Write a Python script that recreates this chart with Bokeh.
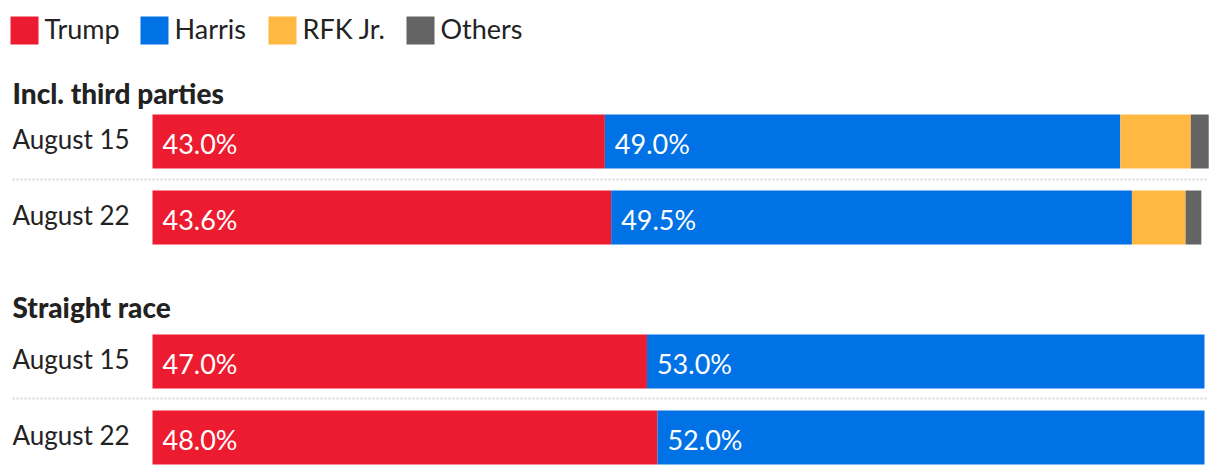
from bokeh.plotting import figure
from bokeh.models import Range1d, ColumnDataSource
from bokeh.core.properties import value
from bokeh.embed import file_html
from bokeh.resources import INLINE

# ---- data ----
candidates = ["Trump", "Harris", "RFK Jr.", "Others"]
dates = ["August 15", "August 22"]
sections = ["Incl. third parties", "Straight race"]
third_trump = [43.0, 43.6]
third_harris = [49.0, 49.5]
third_rfk = [6.7, 5.1]
third_others = [1.7, 1.5]
straight_trump = [47.0, 48.0]
straight_harris = [53.0, 52.0]

# ---- style / layout ----
COLORS = ["#EC1B2F", "#0072E6", "#FFB942", "#646464"]
TEXT = "#222222"
FONT = "Lato"
W, H = 1212, 466
M = 0                     # figure origin on screen
BAR_X0, BAR_X1 = 152, 1204  # screen px for 0% and 100%
k = (BAR_X1 - BAR_X0) / 100.0
x0 = -(BAR_X0 - M) / k
x1 = x0 + W / k
ROW_Y = [[141, 217], [361, 437]]
SECTION_Y = [92, 306]
DIVIDER_Y = [179, 398]
BAR_H = 54
LEG_X = [10, 140, 268, 406]
DY = -9   # text baseline correction

p = figure(width=W, height=H, output_backend="svg", toolbar_location=None,
           x_range=Range1d(x0, x1), y_range=Range1d(M + H, M),
           min_border=0, outline_line_color=None, background_fill_color="white",
           border_fill_color="white")
p.extra_x_ranges = {"px": Range1d(M, M + W)}
p.xaxis.visible = False
p.yaxis.visible = False
p.xgrid.visible = False
p.ygrid.visible = False

# legend
p.quad(left=LEG_X, right=[x + 28 for x in LEG_X], top=[16] * 4, bottom=[44] * 4,
       fill_color=COLORS, line_color=None, x_range_name="px")
p.text(x=[x + 34 for x in LEG_X], y=[37 + DY] * 4, text=candidates, x_range_name="px",
       text_font=value(FONT), text_font_size="27px", text_color=TEXT,
       text_baseline="alphabetic", text_align="left")

# section titles
p.text(x=[12, 12], y=SECTION_Y, text=sections, x_range_name="px",
       text_font=value("Lato Black"), text_font_size="28px",
       text_color=TEXT, text_baseline="alphabetic")

# dividers
for dy in DIVIDER_Y:
    p.line(x=[12, 1208], y=[dy, dy], x_range_name="px", line_color="#d6d6d6",
           line_width=2, line_dash="2 2")

def draw_section(series, ys):
    left = [0.0] * len(ys)
    lab_x, lab_y, lab_t = [], [], []
    for i, vals in enumerate(series):
        right = [l + v for l, v in zip(left, vals)]
        src = ColumnDataSource(dict(y=ys, left=left, right=right))
        p.hbar(y="y", left="left", right="right", height=BAR_H, source=src,
               fill_color=COLORS[i], line_color=None)
        if i < 2:
            for l, v, yy in zip(left, vals, ys):
                lab_x.append(l)
                lab_y.append(yy + 11 + DY)
                lab_t.append(f"{v:.1f}%")
        left = right
    p.text(x=lab_x, y=lab_y, text=lab_t, x_offset=10, text_font=value(FONT),
           text_font_size="27px", text_color="white", text_baseline="alphabetic")
    p.text(x=[12] * len(ys), y=[yy + 6 + DY for yy in ys], text=dates, x_range_name="px",
           text_font=value(FONT), text_font_size="26px", text_color=TEXT,
           text_baseline="alphabetic")

draw_section([third_trump, third_harris, third_rfk, third_others], ROW_Y[0])
draw_section([straight_trump, straight_harris], ROW_Y[1])

open("out.html", "w").write(file_html(p, INLINE))
